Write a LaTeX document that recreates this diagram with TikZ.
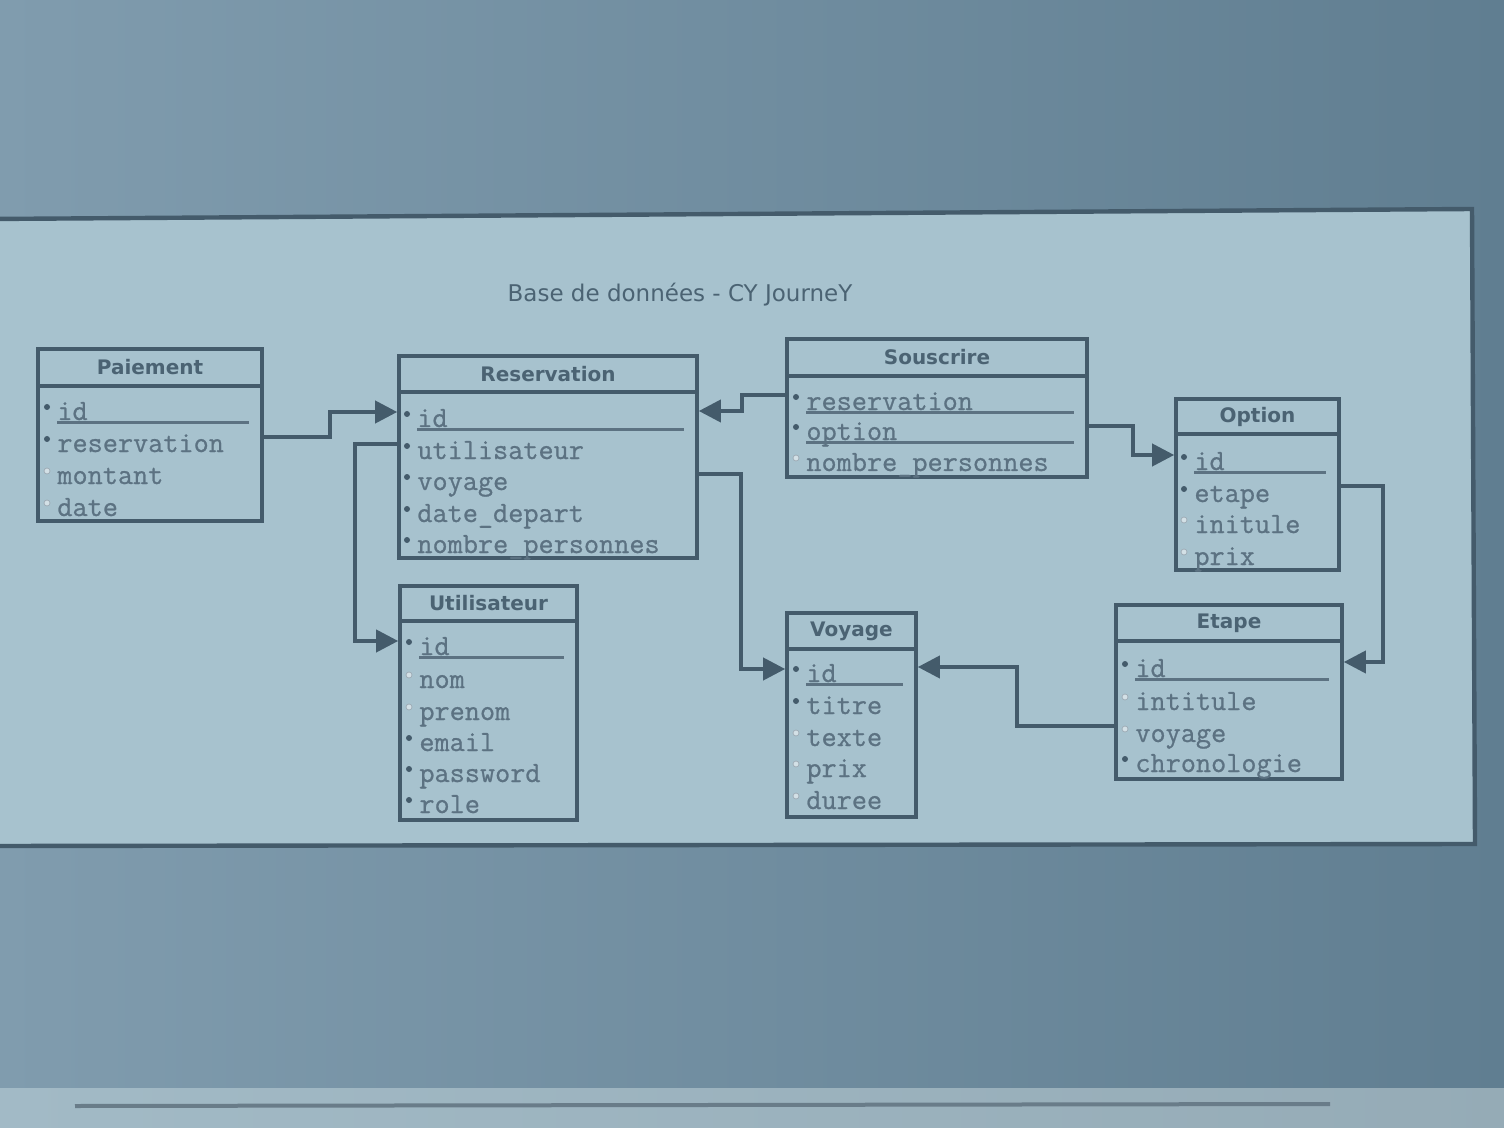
\documentclass[tikz,border=0pt]{standalone}
\usepackage{fontspec}
\setmainfont{DejaVu Sans}
\newfontfamily\monof[FakeBold=0.8]{Latin Modern Mono}
\newfontfamily\headf{DejaVu Sans}
\usetikzlibrary{arrows.meta,fit,calc}
\definecolor{bgA}{HTML}{809CAE}
\definecolor{bgB}{HTML}{607E91}
\definecolor{panel}{HTML}{A7C2CE}
\definecolor{ink}{HTML}{445B6B}
\definecolor{ftxt}{HTML}{5C7282}
\definecolor{htxt}{HTML}{4B6373}
\definecolor{band}{HTML}{A2BAC6}
\newcommand\tbl[7]{%
  \node[tframe, fit={(#2,#3)(#4,#5)}] (#1) {};
  \node[fit={(#2,#3)(#4,#6)}, inner sep=0pt] (#1-h) {};
  \draw[tline] (#2,#6) -- (#4,#6);
  \node[thead] (#1-t) at (#1-h.center) {#7};
}
\newcommand\fr[5]{%
  \node[#4] (#1-b) at (#2,#3-13) {};
  \node[fieldtxt, anchor=base west] (#1) at (#2+10,#3) {#5};
}
\newcommand\uln[2]{%
  \draw[uline] ([yshift=-1.2pt]#1.base west) -- ([xshift=-7.5pt,yshift=-1.2pt]#1.base -| #2.east);
}
\begin{document}
\begin{tikzpicture}[x=0.5pt,y=-0.5pt,
  tframe/.style={draw=ink, line width=1.8pt, inner sep=0pt},
  tline/.style={draw=ink, line width=1.8pt},
  thead/.style={font=\headf\bfseries\fontsize{10}{12}\selectfont, text=htxt, inner sep=0pt},
  title/.style={font=\headf\fontsize{11.5}{13}\selectfont, text=htxt, inner sep=0pt},
  fieldtxt/.style={font=\monof\fontsize{14.7}{16}\selectfont, text=ftxt, inner sep=0pt},
  fb/.style={circle, fill=ink, inner sep=0pt, minimum size=3pt},
  hb/.style={circle, fill=panel!50!white, draw=ftxt!60, line width=0.35pt, inner sep=0pt, minimum size=3pt},
  uline/.style={draw=ftxt, line width=1.2pt},
  conn/.style={draw=ink, line width=1.9pt, -{Triangle[length=11pt,width=11pt]}},
]
\useasboundingbox (0,0) rectangle (1504,1128);
\clip (0,0) rectangle (1504,1128);
% background
\shade[left color=bgA, right color=bgB] (0,0) rectangle (1504,1128);
\shade[left color=band, right color=band!92!black] (0,1088) rectangle (1504,1128);
\draw[draw=ink!80, line width=2pt] (75,1106) -- (1330,1104);
% panel
\fill[panel] (-10,219) -- (1472,209) -- (1475,844) -- (-10,846) -- cycle;
\draw[draw=ink, line width=2.2pt] (-10,219) -- (1472,209) -- (1475,844) -- (-10,846);
% title
\node[title] (title) at (680,295) {Base de données - CY JourneY};
% tables
\tbl{pai}{38}{349}{262}{521}{386}{Paiement}
\fr{pai-id}{47}{420}{fb}{id}
\fr{pai-res}{47}{452}{fb}{reservation}
\fr{pai-mon}{47}{484}{hb}{montant}
\fr{pai-dat}{47}{516}{hb}{date}
\uln{pai-id}{pai}

\tbl{res}{399}{356}{697}{558}{392}{Reservation}
\fr{res-id}{407}{427}{fb}{id}
\fr{res-uti}{407}{459}{fb}{utilisateur}
\fr{res-voy}{407}{490}{fb}{voyage}
\fr{res-dat}{407}{522}{fb}{date\_depart}
\fr{res-nb}{407}{553}{fb}{nombre\_personnes}
\uln{res-id}{res}

\tbl{sou}{787}{339}{1087}{477}{376}{Souscrire}
\fr{sou-res}{796}{410}{fb}{reservation}
\fr{sou-opt}{796}{440}{fb}{option}
\fr{sou-nb}{796}{471}{hb}{nombre\_personnes}
\uln{sou-res}{sou}
\uln{sou-opt}{sou}

\tbl{opt}{1176}{399}{1339}{570}{434}{Option}
\fr{opt-id}{1184}{470}{fb}{id}
\fr{opt-eta}{1184}{502}{fb}{etape}
\fr{opt-int}{1184}{533}{hb}{initule}
\fr{opt-prx}{1184}{565}{hb}{prix}
\uln{opt-id}{opt}

\tbl{uti}{400}{586}{577}{820}{621}{Utilisateur}
\fr{uti-id}{409}{655}{fb}{id}
\fr{uti-nom}{409}{688}{hb}{nom}
\fr{uti-pre}{409}{720}{hb}{prenom}
\fr{uti-ema}{409}{751}{fb}{email}
\fr{uti-pwd}{409}{782}{fb}{password}
\fr{uti-rol}{409}{813}{fb}{role}
\uln{uti-id}{uti}

\tbl{voy}{787}{613}{916}{817}{649}{Voyage}
\fr{voy-id}{796}{682}{fb}{id}
\fr{voy-tit}{796}{714}{fb}{titre}
\fr{voy-txt}{796}{746}{hb}{texte}
\fr{voy-prx}{796}{777}{hb}{prix}
\fr{voy-dur}{796}{809}{hb}{duree}
\uln{voy-id}{voy}

\tbl{eta}{1116}{605}{1342}{779}{641}{Etape}
\fr{eta-id}{1125}{677}{fb}{id}
\fr{eta-int}{1125}{710}{hb}{intitule}
\fr{eta-voy}{1125}{742}{hb}{voyage}
\fr{eta-chr}{1125}{772}{fb}{chronologie}
\uln{eta-id}{eta}

% connectors
\draw[conn] (pai.east |- 0,437) -- (330,437) -- (330,412) -- (res.west |- 0,412);
\draw[conn] (res.west |- 0,444) -- (355,444) -- (355,641) -- (uti.west |- 0,641);
\draw[conn] (sou.west |- 0,395) -- (742,395) -- (742,411) -- (res.east |- 0,411);
\draw[conn] (res.east |- 0,474) -- (741,474) -- (741,669) -- (voy.west |- 0,669);
\draw[conn] (sou.east |- 0,426) -- (1133,426) -- (1133,455) -- (opt.west |- 0,455);
\draw[conn] (opt.east |- 0,486) -- (1383,486) -- (1383,662) -- (eta.east |- 0,662);
\draw[conn] (eta.west |- 0,726) -- (1017,726) -- (1017,667) -- (voy.east |- 0,667);
\end{tikzpicture}
\end{document}
